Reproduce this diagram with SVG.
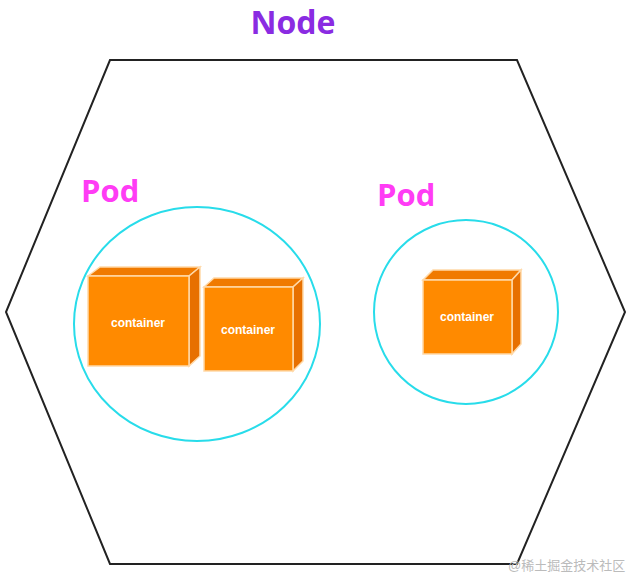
<svg xmlns="http://www.w3.org/2000/svg" width="631" height="576" viewBox="0 0 631 576">
<style>
.front{fill:#ff8a00;stroke:#ffd9a8;stroke-width:1.5}
.side{fill:#e77000;stroke:#ffd9a8;stroke-width:1.5}
.top{fill:#f07a00;stroke:#ffd9a8;stroke-width:1.5}
.ct{font-family:"Liberation Sans",Arial,sans-serif;font-size:12px;font-weight:bold;fill:#fff;text-anchor:middle}
.pod{fill:none;stroke:#28dcea;stroke-width:2}
.pl{font-family:"Open Sans","Liberation Sans",sans-serif;font-size:31px;font-weight:bold;fill:#ff3cf5}
</style>
<rect width="631" height="576" fill="#fff"/>
<g id="node">
<polygon points="110,60 517,60 625,312 517,564 110,564 6,312" fill="none" stroke="#222" stroke-width="2"/>
<text x="293" y="34" text-anchor="middle" font-family="'Open Sans','Liberation Sans',sans-serif" font-size="32" font-weight="bold" fill="#8a2be2">Node</text>
</g>
<g id="pod1">
<ellipse class="pod" cx="197" cy="324" rx="123" ry="117"/>
<text class="pl" x="81" y="202">Pod</text>
</g>
<g id="pod2">
<ellipse class="pod" cx="466" cy="312" rx="92" ry="92"/>
<text class="pl" x="377" y="206">Pod</text>
</g>
<g id="container1">
<polygon class="top" points="88,276 100,267 200,267 189,276"/>
<polygon class="side" points="189,276 200,267 200,356 189,366"/>
<rect class="front" x="88" y="276" width="101" height="90"/>
<text class="ct" x="138" y="327">container</text>
</g>
<g id="container2">
<polygon class="top" points="204,287 214,278 303,278 293,287"/>
<polygon class="side" points="293,287 303,278 303,361 293,371"/>
<rect class="front" x="204" y="287" width="89" height="84"/>
<text class="ct" x="248" y="334">container</text>
</g>
<g id="container3">
<polygon class="top" points="423,280 433,270 521,270 512,280"/>
<polygon class="side" points="512,280 521,270 521,344 512,354"/>
<rect class="front" x="423" y="280" width="89" height="74"/>
<text class="ct" x="467" y="321">container</text>
</g>
<g id="connectors"/>
<text x="508" y="570" font-family="'Liberation Sans','Noto Sans CJK SC',sans-serif" font-size="13" fill="#bbb">@稀土掘金技术社区</text>
</svg>
